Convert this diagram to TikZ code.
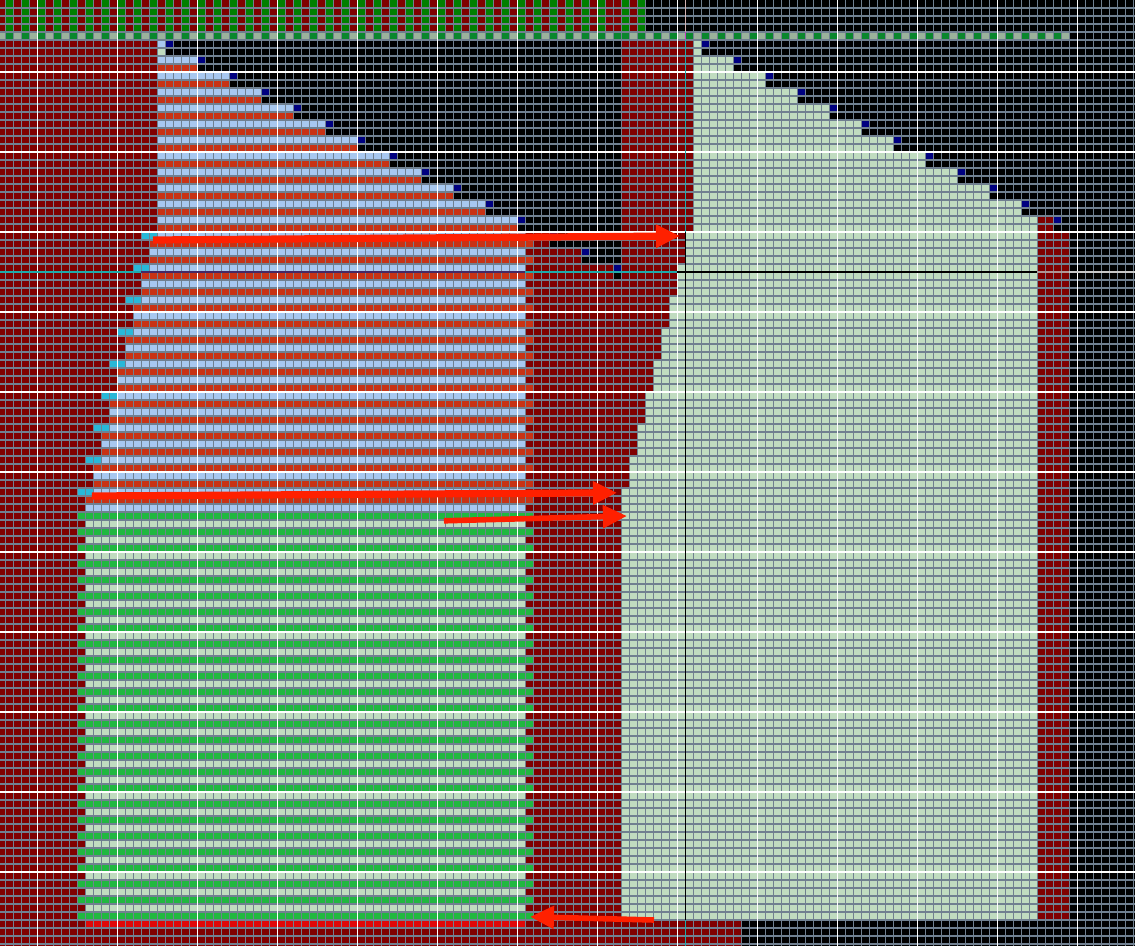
\documentclass[tikz,border=0pt]{standalone}
\usepackage{xcolor}
\definecolor{mapdarkred}{RGB}{128,0,0}
\definecolor{maptopgreen}{RGB}{0,128,0}
\definecolor{mapbandgray}{RGB}{155,178,155}
\definecolor{mapbandgreen}{RGB}{10,135,45}
\definecolor{mapblue}{RGB}{168,200,240}
\definecolor{maporange}{RGB}{200,50,20}
\definecolor{mapcyan}{RGB}{40,184,216}
\definecolor{mapgreen}{RGB}{32,184,64}
\definecolor{mappale}{RGB}{192,220,192}
\definecolor{mapnavy}{RGB}{0,0,128}
\definecolor{mapbrightred}{RGB}{224,8,8}
\definecolor{mapgrid}{RGB}{112,128,144}
\definecolor{mapteal}{RGB}{30,170,170}
\definecolor{maparrow}{RGB}{255,32,0}
\usetikzlibrary{arrows.meta}

\begin{document}
\begin{tikzpicture}[x=0.2cm,y=-0.2cm,
  gridline/.style={draw=mapgrid,line width=0.75pt},
  majorline/.style={draw=white,line width=0.75pt},
  markline/.style={line width=0.9pt},
  pointer/.style={draw=maparrow,line width=0.18cm,-{Triangle[length=0.6cm,width=0.55cm]}}
]
  \useasboundingbox (1/3,0) rectangle (142.2083,118.25);
  \clip (1/3,0) rectangle (142.2083,118.25);
  \fill[black] (0,0) rectangle (143,119);

  % top band
  \fill[mapdarkred] (0,0) rectangle (81,4);
  \foreach \i in {1,3,...,75} \fill[maptopgreen] (\i,0) rectangle ++(1,4);
  \foreach \i in {78,80} \fill[maptopgreen] (\i,0) rectangle ++(1,4);
  \fill[mapbandgray] (0,4) rectangle (134,5);
  \foreach \i in {1,3,...,77} \fill[mapbandgreen] (\i,4) rectangle ++(1,1);
  \foreach \i in {78,80,...,132} \fill[mapbandgreen] (\i,4) rectangle ++(1,1);

  % dark red ground
  \fill[mapdarkred] (0,5) rectangle (87,115);
  \fill[mapdarkred] (0,115) rectangle (93,119);
  \fill[mapdarkred] (130,29) rectangle (134,115);
  \fill[mapdarkred] (130,27) rectangle (132,29);

  % black steps
  \foreach \m in {0,...,14}
    \fill[black] ({21+4*\m},{2*\m+5}) rectangle (78,{2*\m+7});
  \foreach \m in {0,...,14}
    \fill[mapnavy] ({21+4*\m},{2*\m+5}) rectangle ++(1,1);
  \foreach \m in {0,...,11}
    \fill[mapnavy] ({88+4*\m},{2*\m+5}) rectangle ++(1,1);

  % pale block, right
  \foreach \m in {0,...,10}
    \fill[mappale] (87,{2*\m+5}) rectangle ({88+4*\m},{2*\m+7});
  \fill[mappale] (87,27) rectangle (130,29);
  \foreach \g in {0,...,7}
    \fill[mappale] ({86-\g},{29+4*\g}) rectangle (130,{33+4*\g});
  \fill[mappale] (78,61) rectangle (130,115);

  % blue / orange stripes
  \foreach \m in {0,...,11} {
    \fill[mapblue] (20,{2*\m+5}) rectangle ({21+4*\m},{2*\m+6});
    \fill[maporange] (20,{2*\m+6}) rectangle ({21+4*\m},{2*\m+7});
  }
  \fill[mappale] (20,6) rectangle (21,7);
  \foreach \g in {0,...,8} {
    \fill[mapblue] ({19-\g},{29+4*\g}) rectangle (66,{30+4*\g});
    \fill[maporange] ({19-\g},{30+4*\g}) rectangle (67,{31+4*\g});
    \fill[mapblue] ({19-\g},{31+4*\g}) rectangle (66,{32+4*\g});
    \fill[maporange] ({19-\g},{32+4*\g}) rectangle (67,{33+4*\g});
    \fill[mapcyan] ({18-\g},{29+4*\g}) rectangle ({20-\g},{30+4*\g});
  }

  % green stripes
  \foreach \j in {64,66,...,114} \fill[mapgreen] (10,\j) rectangle (67,\j+1);
  \foreach \j in {65,67,...,113} \fill[mappale] (11,\j) rectangle (66,\j+1);
  \fill[mapbrightred] (11,115) rectangle (66,116);

  % grid
  \foreach \k in {1,...,142} \draw[gridline] (\k,0) -- (\k,118.25);
  \foreach \k in {1,...,118} \draw[gridline] (0,\k) -- (142.25,\k);
  \foreach \k in {5,15,...,135} \draw[majorline] (\k,0) -- (\k,118.25);
  \foreach \k in {9,19,...,109} \draw[majorline] (0,\k) -- (142.25,\k);

  % marker lines
  \draw[markline,draw={rgb,255:red,208;green,176;blue,176}] (86,0) -- (86,4);
  \draw[markline,draw={rgb,255:red,192;green,64;blue,192}] (86,4) -- (86,5);
  \draw[markline,draw=mapteal] (86,5) -- (86,29);
  \draw[markline,draw=black] (86,29) -- (86,115);
  \draw[markline,draw=mapteal] (86,115) -- (86,118.25);
  \draw[markline,draw=mapteal] (0,34) -- (18,34);
  \draw[markline,draw={rgb,255:red,70;green,40;blue,100}] (18,34) -- (66,34);
  \draw[markline,draw=mapteal] (66,34) -- (85,34);
  \draw[markline,draw=black] (85,34) -- (130,34);
  \draw[markline,draw={rgb,255:red,176;green,150;blue,150}] (130,34) -- (134,34);
  \draw[markline,draw={rgb,255:red,200;green,200;blue,200}] (134,34) -- (142.25,34);

  % arrows
  \coordinate (p1s) at (19.46,30.0);
  \coordinate (p1e) at (85.33,29.5);
  \coordinate (p2s) at (11.83,62.0);
  \coordinate (p2e) at (77.46,61.6);
  \coordinate (p3s) at (55.83,65.1);
  \coordinate (p3e) at (78.70,64.5);
  \coordinate (p4s) at (82.08,115.0);
  \coordinate (p4e) at (66.58,114.6);
  \draw[pointer] (p1s) -- (p1e);
  \draw[pointer] (p2s) -- (p2e);
  \draw[pointer,line width=0.14cm] (p3s) -- (p3e);
  \draw[pointer,line width=0.14cm] (p4s) -- (p4e);
\end{tikzpicture}
\end{document}
